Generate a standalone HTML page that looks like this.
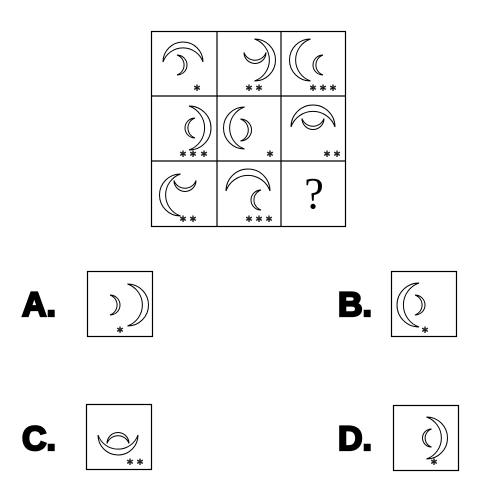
<!DOCTYPE html>
<html><head><meta charset="utf-8"><style>
html,body{margin:0;padding:0;background:#fff;width:500px;height:500px;overflow:hidden}
svg{display:block}
.lbl{font-family:"Liberation Sans",sans-serif;font-weight:900;font-size:34px;fill:#000;stroke:#000;stroke-width:2.2}
.star{font-family:"DejaVu Sans",sans-serif;font-size:9px;fill:#222}
</style></head><body>
<svg id="s" width="500" height="500" viewBox="0 0 500 500">
<g fill="none" stroke="#000" stroke-width="1.2">
<rect x="151.5" y="31.5" width="194" height="195"/>
<line x1="217" y1="31" x2="217" y2="226"/><line x1="281" y1="31" x2="281" y2="226"/>
<line x1="151" y1="96" x2="345" y2="96"/><line x1="151" y1="161" x2="345" y2="161"/>
</g>
<text x="314" y="208" font-family="Liberation Serif,serif" font-size="44" text-anchor="middle">?</text>
<g fill="none" stroke="#000" stroke-width="1.2">
<rect x="87.5" y="271.5" width="65" height="65"/>
<rect x="391.5" y="271.5" width="65" height="65"/>
<rect x="86.5" y="404.5" width="65" height="65"/>
<rect x="393.5" y="405.5" width="65" height="65"/>
</g>
<text class="lbl" x="22" y="316">A.</text>
<text class="lbl" x="338" y="316">B.</text>
<text class="lbl" x="22" y="450">C.</text>
<text class="lbl" x="338" y="450">D.</text>
<g id="shapes"></g>
</svg>
<script>
var crescents=[
[183,52,20,270],[182,65,10,0],
[255,58,11,90],[265,60,21,0],
[300,60,21,180],[318,65,10,180],
[190,128,10,180],[200,128,22,0],
[234,128,21,180],[246,130,11,0],
[313,116,22,270],[313,124,11,90],
[170,195,21,180],[185,186,11,90],
[248,180,22,270],[256,200,10,180],
[115,305,10,0],[138,305,21,0],
[408,305,22,180],[420,305,10,0],
[118,445,20,90],[118,438,11,270],
[427,438,9,180],[437,438,21,0]];
var stars=[[197,91],[249,91],[259,91],[313,91],[323,91],[333,91],[183,157],[193,157],[204,157],[270,157],[327,157],[337,157],[183,222],[193,222],[249,222],[259,222],[269,222],[120,333],[425,333],[130,465],[140,465],[434,465]];
var g=document.getElementById('shapes');var NS='http://www.w3.org/2000/svg';
crescents.forEach(function(c){
var r=c[2],p=document.createElementNS(NS,'path');
var R=r*1.06;
p.setAttribute('d','M0,'+(-r)+' A'+r+' '+r+' 0 0 1 0,'+r+' A'+R+' '+R+' 0 0 0 0,'+(-r)+'Z');
p.setAttribute('transform','translate('+c[0]+','+c[1]+') rotate('+c[3]+') translate('+(-r/2)+',0)');
p.setAttribute('fill','none');p.setAttribute('stroke','#000');p.setAttribute('stroke-width','1');


g.appendChild(p);});
stars.forEach(function(s){
var t=document.createElementNS(NS,'text');
t.setAttribute('x',s[0]);t.setAttribute('y',s[1]);t.setAttribute('class','star');t.setAttribute('text-anchor','middle');
t.textContent='✱';


g.appendChild(t);});
</script>
</body></html>
